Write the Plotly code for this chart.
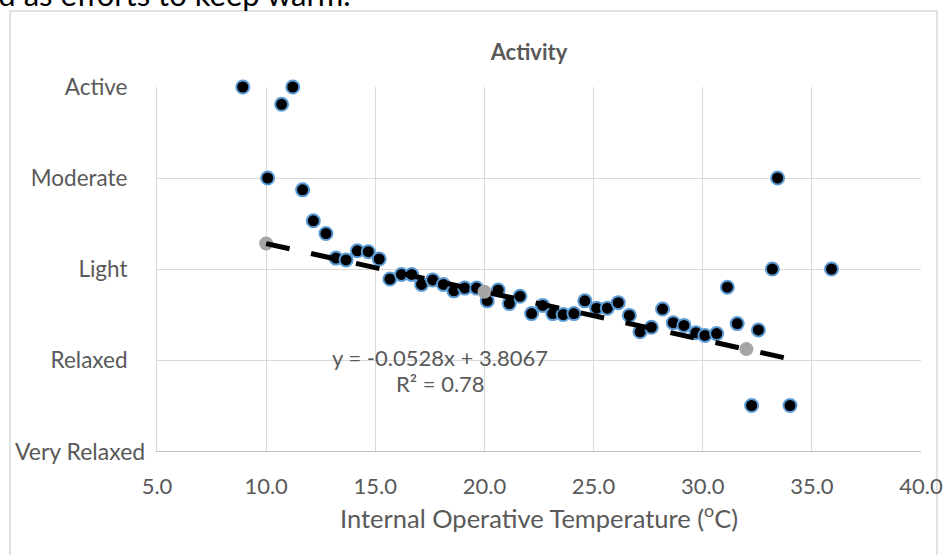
import plotly.graph_objects as go

# ---- data ----
temp_c = [8.93, 11.22, 10.71, 10.07, 11.67, 12.16, 12.74, 13.20, 13.66, 14.18,
          14.68, 15.18, 15.67, 16.20, 16.67, 17.12, 17.63, 18.12, 18.60, 19.10,
          19.64, 20.13, 20.63, 21.14, 21.63, 22.16, 22.67, 23.13, 23.61, 24.10,
          24.60, 25.14, 25.63, 26.13, 26.64, 27.13, 27.65, 28.16, 28.65, 29.14,
          29.69, 30.10, 30.64, 31.13, 31.58, 32.24, 32.55, 33.19, 33.43, 34.00,
          35.90]
activity = [5.00, 5.00, 4.81, 4.00, 3.87, 3.53, 3.39, 3.12, 3.10, 3.20,
            3.19, 3.11, 2.89, 2.94, 2.94, 2.83, 2.88, 2.83, 2.76, 2.79,
            2.79, 2.65, 2.77, 2.62, 2.70, 2.51, 2.60, 2.51, 2.50, 2.51,
            2.65, 2.57, 2.57, 2.63, 2.49, 2.31, 2.36, 2.56, 2.41, 2.38,
            2.30, 2.27, 2.29, 2.80, 2.40, 1.50, 2.33, 3.00, 4.00, 1.50,
            3.00]

grey_x = [10.0, 20.0, 32.0]
grey_y = [3.28, 2.75, 2.12]

trend_slope = -0.0528
trend_intercept = 3.8067
trend_x = [10.0, 34.5]

y_tickvals = [1, 2, 3, 4, 5]
y_ticktext = ["Very Relaxed", "Relaxed", "Light", "Moderate", "Active"]
x_tickvals = [5, 10, 15, 20, 25, 30, 35, 40]
x_ticktext = ["5.0", "10.0", "15.0", "20.0", "25.0", "30.0", "35.0", "40.0"]

FONT = "Lato"
TXT = "#595959"

# plot-area pixel geometry
L, R, T, B = 157, 921, 87, 451
W, H = R - L, B - T


def px_x(p):
    return (p - L) / W


def px_y(p):
    return (B - p) / H


trend_y = [trend_slope * x + trend_intercept for x in trend_x]

fig = go.Figure()
fig.add_trace(go.Scatter(
    x=temp_c, y=activity, mode="markers", cliponaxis=False,
    marker=dict(size=13, color="black", line=dict(color="#5B9BD5", width=2)),
    showlegend=False))
fig.add_trace(go.Scatter(
    x=grey_x, y=grey_y, mode="markers", cliponaxis=False,
    marker=dict(size=14, color="#A5A5A5", line=dict(width=0)),
    showlegend=False))
fig.add_trace(go.Scatter(
    x=trend_x, y=trend_y, mode="lines",
    line=dict(color="black", width=5, dash="24px,22px"),
    showlegend=False))

fig.add_annotation(x=17.98, y=2.03, xref="x", yref="y",
                   text="y = -0.0528x + 3.8067", showarrow=False,
                   font=dict(family=FONT, size=22, color=TXT))
fig.add_annotation(x=18.0, y=1.74, xref="x", yref="y",
                   text="R² = 0.78", showarrow=False,
                   font=dict(family=FONT, size=22, color=TXT))

# lowest category label: Excel pushes this long label right of the others
fig.add_annotation(x=px_x(147), y=y_tickvals[0], xref="paper", yref="y",
                   xanchor="right", yanchor="middle",
                   text=y_ticktext[0], showarrow=False,
                   font=dict(family=FONT, size=23, color=TXT))

# cut-off document text above the chart
fig.add_annotation(x=px_x(353), y=px_y(15), xref="paper", yref="paper",
                   xanchor="right", yanchor="bottom",
                   text="ed as efforts to keep warm.", showarrow=False,
                   font=dict(family=FONT, size=31, color="black"))

# chart border
fig.add_shape(type="rect", xref="paper", yref="paper",
              x0=px_x(10), x1=px_x(937), y0=px_y(600), y1=px_y(11),
              line=dict(color="#D9D9D9", width=1.5), layer="below")

fig.update_layout(
    width=952, height=555,
    margin=dict(l=L, r=952 - R, t=T, b=555 - B, autoexpand=False),
    paper_bgcolor="white", plot_bgcolor="white",
    title=dict(text="<b>Activity</b>", x=px_x(529), xref="paper",
               xanchor="center", y=1 - 52 / 555, yanchor="middle",
               font=dict(family=FONT, size=22, color=TXT)),
    font=dict(family=FONT, color=TXT),
)
fig.update_xaxes(
    range=[5, 40], tickvals=x_tickvals, ticktext=x_ticktext,
    showgrid=True, gridcolor="#D9D9D9", gridwidth=1,
    showline=True, linecolor="#BFBFBF", linewidth=1,
    zeroline=False, ticks="", ticklabelstandoff=16, automargin=False,
    tickfont=dict(family=FONT, size=22, color=TXT),
    title=dict(text="Internal Operative Temperature (<sup>o</sup>C)", standoff=9,
               font=dict(family=FONT, size=25.5, color=TXT)),
)
fig.update_yaxes(
    range=[1, 5], tickvals=y_tickvals, ticktext=[""] + y_ticktext[1:],
    showgrid=True, gridcolor="#D9D9D9", gridwidth=1,
    showline=True, linecolor="#D9D9D9", linewidth=1,
    zeroline=False, ticks="", ticklabelstandoff=24, automargin=False,
    tickfont=dict(family=FONT, size=22.5, color=TXT),
)

fig.write_html("out.html",
               config={"displayModeBar": False},
               post_script="document.body.style.margin='0';")
